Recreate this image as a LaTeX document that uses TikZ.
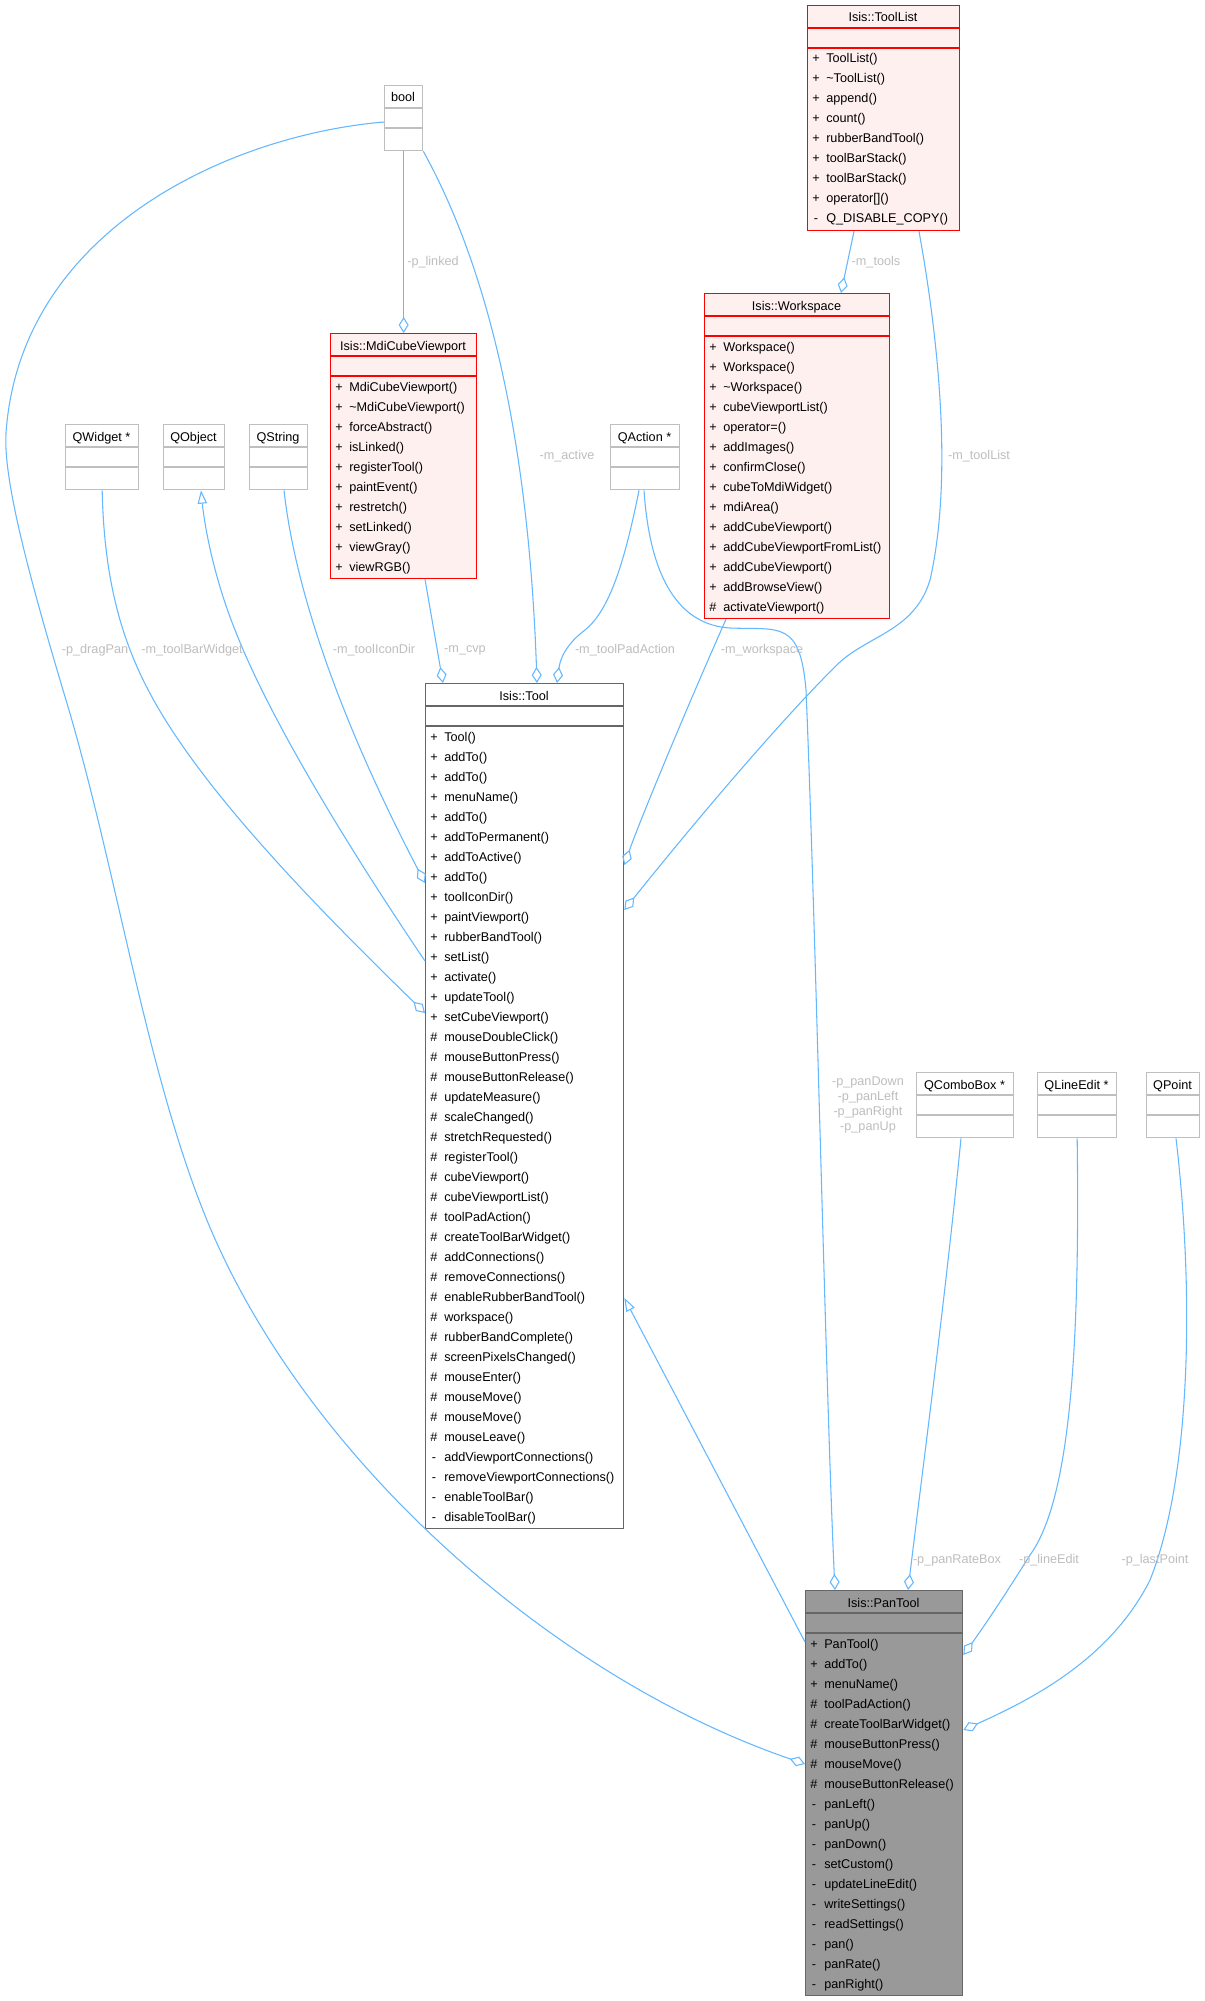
\documentclass[tikz,border=0pt]{standalone}
\usepackage{fontspec}
\setmainfont{Liberation Sans}
\usetikzlibrary{arrows.meta}

\newcommand{\umlclass}[7]{%
  \foreach \p/\m [count=\i] in {#7} {\xdef\nrows{\i}}
  \node[#2, anchor=north west, minimum width={#5*0.75pt}, minimum height={(45+20*\nrows)*0.75pt}] (#1) at (#3,#4) {};
  \draw[#2, fill=none] (#3,#4+23) -- ++(#5,0) (#3,#4+43) -- ++(#5,0);
  \node[txt, anchor=base] (#1-t) at (#3+#5/2,#4+17) {#6};
  \foreach \p/\m [count=\i] in {#7}
  {  \node[txt, anchor=base] (#1-v\i) at (#3+9,#4+38+20*\i) {\p};
     \node[txt, anchor=base west] (#1-m\i) at (#3+19,#4+38+20*\i) {\m};}
}
\newcommand{\umlempty}[5]{%
  \node[grycls, anchor=north west, minimum width={#4*0.75pt}, minimum height={65*0.75pt}] (#1) at (#2,#3) {};
  \draw[grycls, fill=none] (#2,#3+23) -- ++(#4,0) (#2,#3+43) -- ++(#4,0);
  \node[txt, anchor=base] (#1-t) at (#2+#4/2,#3+17) {#5};
}

\begin{document}
\begin{tikzpicture}[x=0.75pt,y=-0.75pt,
  txt/.style={inner sep=0, font=\fontsize{9.5}{12}\selectfont},
  redcls/.style={draw=boxred, fill=boxpink, line width=1pt, inner sep=0},
  grycls/.style={draw=boxgrey, fill=white, line width=1pt, inner sep=0},
  toolcls/.style={draw=boxdark, fill=white, line width=1pt, inner sep=0},
  pancls/.style={draw=boxdark, fill=panfill, line width=1pt, inner sep=0},
  assoc/.style={draw=linkblue, line width=0.8pt, -{Diamond[open, length=12pt, width=7.5pt]}},
  inherit/.style={draw=linkblue, line width=0.8pt, -{Triangle[open, length=10pt, width=7pt]}},
  elbl/.style={txt, text=labelgrey}]
\definecolor{boxred}{HTML}{FF0000}
\definecolor{boxpink}{HTML}{FFF0F0}
\definecolor{boxgrey}{HTML}{BFBFBF}
\definecolor{boxdark}{HTML}{666666}
\definecolor{panfill}{HTML}{999999}
\definecolor{linkblue}{HTML}{63B8FF}
\definecolor{labelgrey}{HTML}{BEBEBE}
\fill[white] (0,0) rectangle (1205,2001);
\useasboundingbox (0,0) rectangle (1205,2001);

\umlempty{bool}{384}{85}{38}{bool}
\umlempty{qwidget}{65}{424}{73}{QWidget *}
\umlempty{qobject}{163}{424}{61}{QObject}
\umlempty{qstring}{249}{424}{58}{QString}
\umlempty{qaction}{610}{424}{69}{QAction *}
\umlempty{qcombobox}{916}{1072}{97}{QComboBox *}
\umlempty{qlineedit}{1037}{1072}{79}{QLineEdit *}
\umlempty{qpoint}{1146}{1072}{53}{QPoint}

\umlclass{toollist}{redcls}{807}{5}{152}{Isis::ToolList}{+/ToolList(), +/\textasciitilde ToolList(), +/append(), +/count(),
  +/rubberBandTool(), +/toolBarStack(), +/toolBarStack(), +/operator[](), -/Q\_DISABLE\_COPY()}
\umlclass{workspace}{redcls}{704}{293}{185}{Isis::Workspace}{+/Workspace(), +/Workspace(), +/\textasciitilde Workspace(),
  +/cubeViewportList(), +/operator=(), +/addImages(), +/confirmClose(), +/cubeToMdiWidget(), +/mdiArea(),
  +/addCubeViewport(), +/addCubeViewportFromList(), +/addCubeViewport(), +/addBrowseView(), \#/activateViewport()}
\umlclass{mdi}{redcls}{330}{333}{146}{Isis::MdiCubeViewport}{+/MdiCubeViewport(), +/\textasciitilde MdiCubeViewport(),
  +/forceAbstract(), +/isLinked(), +/registerTool(), +/paintEvent(), +/restretch(), +/setLinked(), +/viewGray(), +/viewRGB()}
\umlclass{tool}{toolcls}{425}{683}{198}{Isis::Tool}{+/Tool(), +/addTo(), +/addTo(), +/menuName(), +/addTo(),
  +/addToPermanent(), +/addToActive(), +/addTo(), +/toolIconDir(), +/paintViewport(), +/rubberBandTool(), +/setList(),
  +/activate(), +/updateTool(), +/setCubeViewport(), \#/mouseDoubleClick(), \#/mouseButtonPress(),
  \#/mouseButtonRelease(), \#/updateMeasure(), \#/scaleChanged(), \#/stretchRequested(), \#/registerTool(),
  \#/cubeViewport(), \#/cubeViewportList(), \#/toolPadAction(), \#/createToolBarWidget(), \#/addConnections(),
  \#/removeConnections(), \#/enableRubberBandTool(), \#/workspace(), \#/rubberBandComplete(),
  \#/screenPixelsChanged(), \#/mouseEnter(), \#/mouseMove(), \#/mouseMove(), \#/mouseLeave(),
  -/addViewportConnections(), -/removeViewportConnections(), -/enableToolBar(), -/disableToolBar()}
\umlclass{pantool}{pancls}{805}{1590}{157}{Isis::PanTool}{+/PanTool(), +/addTo(), +/menuName(), \#/toolPadAction(),
  \#/createToolBarWidget(), \#/mouseButtonPress(), \#/mouseMove(), \#/mouseButtonRelease(), -/panLeft(), -/panUp(),
  -/panDown(), -/setCustom(), -/updateLineEdit(), -/writeSettings(), -/readSettings(), -/pan(), -/panRate(), -/panRight()}

\draw[assoc] ([shift={(0,37)}]bool.north west) .. controls (230,135) and (20,230) .. (6,433)
  .. controls (3,480) and (30,580) .. (66,700) .. controls (120,880) and (150,1100) .. (220,1250)
  .. controls (325,1475) and (560,1680) .. ([shift={(0,174)}]pantool.north west);
\draw[assoc] (bool.south) -- (mdi.north);
\draw[assoc] (bool.south east) .. controls (500,290) and (530,480) .. ([shift={(112,0)}]tool.north west);
\draw[assoc] ([shift={(95,0)}]mdi.south west) -- ([shift={(18,0)}]tool.north west);
\draw[assoc] ([shift={(29,0)}]qaction.south west) .. controls (625,560) and (610,610) .. (585,630)
  .. controls (565,645) and (560,660) .. ([shift={(132,0)}]tool.north west);
\draw[assoc] ([shift={(34,0)}]qaction.south west) .. controls (650,580) and (680,625) .. (730,628)
  .. controls (780,630) and (800,620) .. (806,690) .. controls (815,900) and (826,1400) .. ([shift={(30,0)}]pantool.north west);
\draw[assoc] ([shift={(47,0)}]toollist.south west) -- ([shift={(137,0)}]workspace.north west);
\draw[assoc] ([shift={(112,0)}]toollist.south west) .. controls (935,320) and (955,470) .. (930,580)
  .. controls (915,630) and (870,635) .. (840,662) .. controls (780,720) and (680,840) .. ([shift={(0,227)}]tool.north east);
\draw[assoc] ([shift={(22,0)}]workspace.south west) .. controls (690,700) and (640,820) .. ([shift={(0,182)}]tool.north east);
\draw[assoc] (qwidget.south) .. controls (105,620) and (140,690) .. (200,770)
  .. controls (260,850) and (350,940) .. ([shift={(0,330)}]tool.north west);
\draw[inherit] ([shift={(0,278)}]tool.north west) .. controls (350,850) and (270,720) .. (235,630)
  .. controls (215,580) and (205,530) .. ([shift={(38,0)}]qobject.south west);
\draw[assoc] ([shift={(35,0)}]qstring.south west) .. controls (295,590) and (340,720) .. ([shift={(0,200)}]tool.north west);
\draw[inherit] ([shift={(0,52)}]pantool.north west) -- ([shift={(0,615)}]tool.north east);
\draw[assoc] ([shift={(45,0)}]qcombobox.south west) .. controls (945,1300) and (925,1450) .. ([shift={(103,0)}]pantool.north west);
\draw[assoc] (qlineedit.south) .. controls (1080,1350) and (1070,1500) .. (1030,1555)
  .. controls (1005,1595) and (985,1625) .. ([shift={(0,65)}]pantool.north east);
\draw[assoc] ([shift={(30,0)}]qpoint.south west) .. controls (1195,1300) and (1190,1480) .. (1150,1580)
  .. controls (1110,1660) and (1030,1700) .. ([shift={(0,140)}]pantool.north east);

\node[elbl] (l-dragpan) at (95,650) {-p\_dragPan};
\node[elbl] (l-linked) at (433,262) {-p\_linked};
\node[elbl] (l-active) at (567,456) {-m\_active};
\node[elbl] (l-cvp) at (465,650) {-m\_cvp};
\node[elbl] (l-toolpad) at (625,650) {-m\_toolPadAction};
\node[elbl] (l-workspace) at (762,650) {-m\_workspace};
\node[elbl] (l-tools) at (876,262) {-m\_tools};
\node[elbl] (l-toollist) at (979,456) {-m\_toolList};
\node[elbl] (l-barwidget) at (192,650) {-m\_toolBarWidget};
\node[elbl] (l-icondir) at (374,650) {-m\_toolIconDir};
\node[elbl, align=center, font=\fontsize{9.5}{11.25}\selectfont] (l-pan) at (868,1105)
  {-p\_panDown\\-p\_panLeft\\-p\_panRight\\-p\_panUp};
\node[elbl] (l-ratebox) at (957,1560) {-p\_panRateBox};
\node[elbl] (l-lineedit) at (1049,1560) {-p\_lineEdit};
\node[elbl] (l-lastpoint) at (1155,1560) {-p\_lastPoint};
\end{tikzpicture}
\end{document}
